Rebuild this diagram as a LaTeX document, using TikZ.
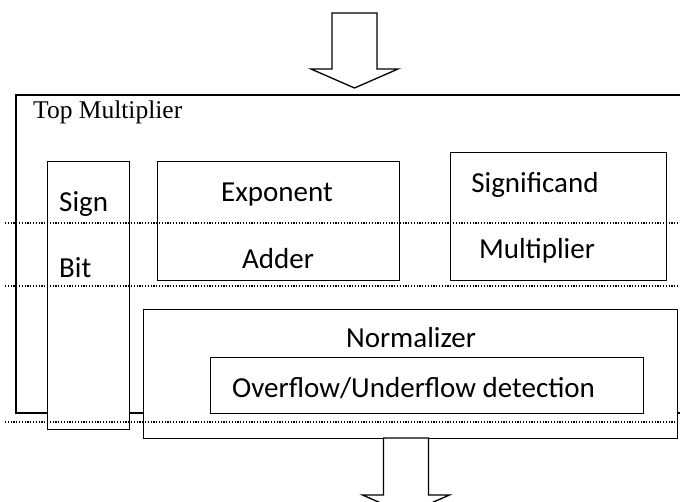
\documentclass[tikz,border=0pt]{standalone}
\usepackage{fontspec}
\setmainfont{Carlito}
\newfontfamily\timesfont{Liberation Serif}
\usepackage{tikz}
\usetikzlibrary{calc}
\tikzset{
 box/.style={draw, line width=1.3pt, fill=white, inner sep=0pt, anchor=north west},
 frame/.style={draw, line width=1.7pt, inner sep=0pt, anchor=north west}
}
\tikzstyle{label}=[inner sep=0pt, font=\fontsize{29}{34}\selectfont]
\tikzstyle{rule}=[line width=1.1pt, dash pattern=on 1.2pt off 1.6pt]
\newcommand{\blockarrow}[3]{
 \filldraw[line width=1.3pt, fill=white] ($(#1,#2)+(-22.5,0)$) -- ($(#1,#2)+(22.5,0)$) -- ($(#1,#3)+(22.5,0)$) -- ($(#1,#3)+(43.5,0)$) -- ($(#1,#3)+(0,19)$) -- ($(#1,#3)+(-43.5,0)$) -- ($(#1,#3)+(-22.5,0)$) -- cycle;
}

\begin{document}
\begin{tikzpicture}[x=1pt, y=-1pt]
 \useasboundingbox (0,0) rectangle (680,501);
%
 \node[frame, minimum width=669pt, minimum height=318pt] (top) at (15,94) {};
 \node[inner sep=0pt, anchor=base west, font=\timesfont\fontsize{25.5}{30}\selectfont] (toplabel) at (33,118) {Top Multiplier};
%
 \node[box, minimum width=82pt, minimum height=268pt] (sign) at (47,161) {};
 \node[box, minimum width=242pt, minimum height=119pt] (expo) at (157,161) {};
 \node[box, minimum width=216pt, minimum height=128pt] (signif) at (450,152) {};
 \node[box, minimum width=534pt, minimum height=129pt] (norm) at (143,309) {};
 \node[box, minimum width=433pt, minimum height=56pt] (ovf) at (210,357) {};
%
 \node[label, anchor=base west] (signtxt) at (59,211) {Sign};
 \node[label, anchor=base west] (bittxt) at (59,277) {Bit};
 \node[label, anchor=base] (expotxt) at (277,201) {Exponent};
 \node[label, anchor=base] (addtxt) at (278,268) {Adder};
 \node[label, anchor=base] (sigtxt) at (535,192) {Significand};
 \node[label, anchor=base] (multxt) at (537,258) {Multiplier};
 \node[label, anchor=base] (normtxt) at (411,347) {Normalizer};
 \node[label, anchor=base west] (ovftxt) at (232,397) {Overflow/Underflow detection};
%
 \foreach \y in {223,286,422}
  \draw[rule] (5,\y) -- (680,\y);
%
 \blockarrow{354.5}{13}{69}
 \blockarrow{406}{438}{495}
\end{tikzpicture}
\end{document}
